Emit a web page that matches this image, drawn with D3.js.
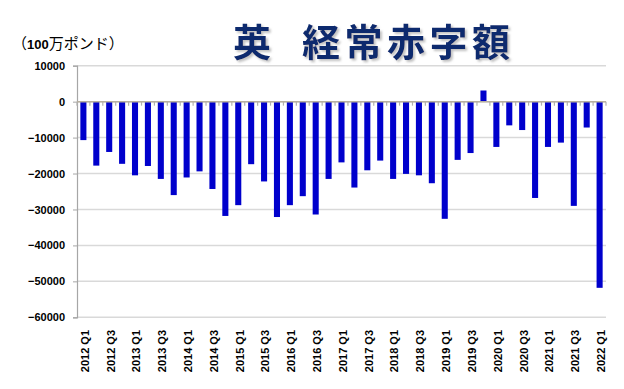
<!DOCTYPE html>
<html>
<head>
<meta charset="utf-8">
<script src="https://cdn.jsdelivr.net/npm/d3@7"></script>
<style>
  body { margin: 0; background: #fff; }
  svg { display: block; }
</style>
</head>
<body>
<div id="chart"></div>
<script>
// quarters 2012 Q1 .. 2022 Q1
var quarters = [];
for (var yr = 2012; yr <= 2022; yr++) {
  for (var q = 1; q <= 4; q++) {
    if (yr === 2022 && q > 1) break;
    quarters.push(yr + " Q" + q);
  }
}

// current account balance, million GBP
var balance = [
  -10700, -17800, -14000, -17300,
  -20500, -17900, -21500, -26000,
  -21100, -19400, -24300, -31800,
  -28800, -17400, -22200, -32100,
  -28800, -26300, -31400, -21500,
  -16900, -23900, -19100, -16400,
  -21500, -20100, -20500, -22700,
  -32600, -16200, -14300, 3100,
  -12600, -6600, -7900, -26800,
  -12600, -11400, -29000, -7200,
  -51800
];

var yTicks = [10000, 0, -10000, -20000, -30000, -40000, -50000, -60000];

var W = 624, H = 389;
var svg = d3.select("#chart").append("svg")
  .attr("width", W)
  .attr("height", H);

// soft shadow for the title
var filt = svg.append("defs").append("filter")
  .attr("id", "shadow")
  .attr("x", "-5%").attr("y", "-10%")
  .attr("width", "115%").attr("height", "130%");
filt.append("feDropShadow")
  .attr("dx", 2).attr("dy", 2)
  .attr("stdDeviation", 0.8)
  .attr("flood-color", "#999")
  .attr("flood-opacity", 0.6);

var x = d3.scaleBand()
  .domain(quarters)
  .range([77, 606])
  .paddingInner(0.53)
  .paddingOuter(0.26);

var y = d3.scaleLinear()
  .domain([-60000, 10000])
  .range([317.3, 65.7]);

// gridlines
svg.append("g")
  .selectAll("line")
  .data(yTicks)
  .enter().append("line")
    .attr("x1", 77)
    .attr("x2", 606)
    .attr("y1", function(d) { return y(d); })
    .attr("y2", function(d) { return y(d); })
    .attr("stroke", "#d9d9d9")
    .attr("stroke-width", 1.5);

// y axis
var yAxis = svg.append("g")
  .attr("transform", "translate(77,0)")
  .call(d3.axisLeft(y).tickValues(yTicks).tickSize(4).tickPadding(8).tickFormat(d3.format("d")));
yAxis.select(".domain").attr("stroke", "#a6a6a6").attr("stroke-width", 1.2);
yAxis.selectAll(".tick line").attr("stroke", "#a6a6a6");
yAxis.selectAll("text")
  .attr("font-family", "'Liberation Sans', Arial, sans-serif")
  .attr("font-weight", "bold")
  .attr("font-size", "11px")
  .attr("fill", "#000");

// bars
svg.append("g")
  .selectAll("rect")
  .data(balance)
  .enter().append("rect")
    .attr("x", function(d, i) { return x(quarters[i]); })
    .attr("width", x.bandwidth())
    .attr("y", function(d) { return y(Math.max(0, d)); })
    .attr("height", function(d) { return Math.abs(y(d) - y(0)); })
    .attr("fill", "#0000cc");

// zero line with category ticks
var bounds = d3.range(quarters.length + 1).map(function(i) { return 77 + i * (529 / quarters.length); });
svg.append("g")
  .selectAll("line")
  .data(bounds)
  .enter().append("line")
    .attr("x1", function(d) { return d; })
    .attr("x2", function(d) { return d; })
    .attr("y1", y(0))
    .attr("y2", y(0) + 4)
    .attr("stroke", "#b0b0b0")
    .attr("stroke-width", 1.2);
svg.append("line")
  .attr("x1", 77).attr("x2", 606)
  .attr("y1", y(0)).attr("y2", y(0))
  .attr("stroke", "#b8b0a0")
  .attr("stroke-width", 1.5);

// x labels (every other quarter)
svg.append("g")
  .selectAll("text")
  .data(quarters.filter(function(d, i) { return i % 2 === 0; }))
  .enter().append("text")
    .attr("transform", function(d) {
      return "translate(" + (x(d) + x.bandwidth() / 2 + 1.5) + ",330) rotate(-90)";
    })
    .attr("text-anchor", "end")
    .attr("dy", "0.35em")
    .attr("font-family", "'Liberation Sans', Arial, sans-serif")
    .attr("font-weight", "bold")
    .attr("font-size", "11px")
    .attr("fill", "#000")
    .text(function(d) { return d; });

// title
var titleFont = "'Noto Sans CJK JP', sans-serif";
var title = svg.append("text")
  .attr("font-family", titleFont)
  .attr("font-weight", "bold")
  .attr("font-size", "38px")
  .attr("fill", "#102a6e")
  .attr("filter", "url(#shadow)");
title.append("tspan").attr("x", 233).attr("y", 56).text("英");
title.append("tspan").attr("x", 302).attr("y", 56)
  .attr("letter-spacing", "4.5px").text("経常赤字額");

// unit label
var unit = svg.append("text")
  .attr("x", 12)
  .attr("y", 49)
  .attr("font-family", titleFont)
  .attr("font-size", "15px")
  .attr("fill", "#000");
unit.append("tspan").text("（");
unit.append("tspan").attr("font-family", "'Liberation Sans', Arial, sans-serif")
  .attr("font-weight", "bold").attr("font-size", "13px").text("100");
unit.append("tspan").text("万ポンド）");
</script>
</body>
</html>
